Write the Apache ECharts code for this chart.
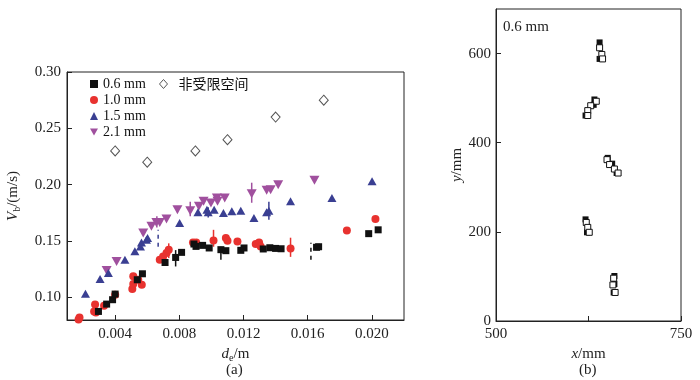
<!DOCTYPE html>
<html><head><meta charset="utf-8">
<script src="https://cdn.jsdelivr.net/npm/echarts@6/dist/echarts.min.js"></script>
<style>html,body{margin:0;padding:0;background:#fff}#c{width:700px;height:380px}</style>
</head><body><div id="c"></div>
<script>
// ---- Panel (a) data: [d_e (m), V_b (m/s)]
const s06 = [[0.00296,0.0876],[0.00347,0.0941],[0.00384,0.098],[0.0040,0.103],[0.00538,0.1157],[0.0057,0.121],[0.00711,0.131],[0.00777,0.1355],[0.00814,0.140],[0.00891,0.1474],[0.00904,0.1453],[0.00945,0.1462],[0.00986,0.1439],[0.01059,0.1424],[0.0109,0.1415],[0.01183,0.1418],[0.01203,0.1439],[0.01323,0.143],[0.01364,0.1441],[0.014,0.1435],[0.01434,0.1432],[0.01655,0.1445],[0.01668,0.145],[0.0198,0.1566],[0.02039,0.160]];
const s10 = [[0.00172,0.0805],[0.00178,0.0822],[0.00269,0.0876],[0.0028,0.0867],[0.00275,0.0938],[0.00331,0.0926],[0.0040,0.1024],[0.00507,0.1075],[0.00513,0.112],[0.00513,0.1187],[0.00544,0.1157],[0.00566,0.1113],[0.00678,0.1335],[0.00699,0.1364],[0.0072,0.1394],[0.00734,0.1424],[0.00885,0.1488],[0.00905,0.1488],[0.01013,0.1506],[0.0109,0.1527],[0.011,0.1503],[0.01162,0.1497],[0.01276,0.1474],[0.01297,0.1488],[0.01307,0.1453],[0.01493,0.1435],[0.01844,0.1595],[0.02022,0.1696]];
const s15 = [[0.00215,0.1033],[0.00306,0.1163],[0.00358,0.1217],[0.00461,0.1335],[0.00523,0.1409],[0.00558,0.1453],[0.00564,0.1488],[0.00595,0.1512],[0.00602,0.1527],[0.00802,0.166],[0.00916,0.1755],[0.00972,0.1779],[0.0098,0.1755],[0.01017,0.1779],[0.01075,0.175],[0.01127,0.1764],[0.01183,0.177],[0.01265,0.1705],[0.01344,0.1755],[0.01358,0.177],[0.01493,0.1853],[0.01751,0.1883],[0.02001,0.203]];
const s21 = [[0.00347,0.124],[0.00409,0.132],[0.00575,0.1572],[0.00626,0.1631],[0.00657,0.1666],[0.00678,0.1666],[0.0072,0.1696],[0.00788,0.1779],[0.00868,0.177],[0.00922,0.1808],[0.00951,0.1853],[0.00997,0.1838],[0.01034,0.1883],[0.01038,0.1853],[0.01083,0.1883],[0.01251,0.1921],[0.01344,0.195],[0.01369,0.1956],[0.01416,0.2],[0.01642,0.2039]];
const sFree = [[0.004,0.230],[0.006,0.220],[0.009,0.230],[0.011,0.240],[0.014,0.260],[0.017,0.275]];
// error bars: [x, low, high]
const err06 = [[0.00777,0.1275,0.142],[0.01059,0.1335,0.145]];
const err06dash = [[0.0162,0.1335,0.1485]];
const err10 = [[0.00734,0.135,0.148],[0.01013,0.145,0.160],[0.01493,0.136,0.153]];
const err15 = [[0.0098,0.171,0.180],[0.01358,0.169,0.185]];
const err15dash = [[0.00668,0.145,0.160]];
const err21 = [[0.00868,0.172,0.185],[0.01251,0.184,0.2018],[0.0066,0.162,0.172]];
const xTicksA = [0.004,0.008,0.012,0.016,0.020];
const yTicksA = [0.10,0.15,0.20,0.25,0.30];
const namesA = ['0.6 mm','1.0 mm','1.5 mm','2.1 mm','非受限空间'];

// ---- Panel (b) data: [x (mm), y (mm)]
const bFilled = [[640,625],[640,588],[633,497],[632,485],[621,461],[651,366],[657,353],[663,332],[621,228],[623,199],[660,101],[660,83],[659,64]];
const bHollow = [[640,613],[643,598],[644,588],[635.5,493],[628,483],[624,472],[624,461],[650,362],[653.5,351],[660,341],[665,332],[622,221],[624,210],[626,199],[659,96],[658,81],[661,64]];
const xTicksB = [500,625,750];
const xLabelsB = [500,750];
const yTicksB = [0,200,400,600];

const FONT = '"Liberation Serif","Times New Roman",serif';
const C06='#111111', C10='#e8322f', C15='#3a3f92', C21='#a0509e';

function errSeries(data, color, dashed){
  return {type:'custom', xAxisIndex:0, yAxisIndex:0, silent:true, z:1,
    encode:{x:0,y:[1,2]}, data:data,
    renderItem:function(params, api){
      const p1=api.coord([api.value(0),api.value(1)]);
      const p2=api.coord([api.value(0),api.value(2)]);
      return {type:'line', shape:{x1:p1[0],y1:p1[1],x2:p2[0],y2:p2[1]},
        style:{stroke:color,lineWidth:1.5,lineDash:dashed?[4,4]:null}};
    }};
}
const axisLineStyle = {lineStyle:{color:'#222',width:1}};
const chart = echarts.init(document.getElementById('c'));
chart.setOption({
  animation:false,
  textStyle:{fontFamily:FONT},
  grid:[
    {left:67, top:72, right:296, bottom:60, show:true, borderColor:'#222', borderWidth:1},
    {left:496, top:9, right:19, bottom:59, show:true, borderColor:'#222', borderWidth:1}
  ],
  legend:[
    {data:namesA.slice(0,4), orient:'vertical', left:90, top:77, padding:0, itemWidth:8, itemHeight:8, itemGap:2,
     textStyle:{fontFamily:FONT,fontSize:14,color:'#111',lineHeight:14}, selectedMode:false},
    {data:[{name:namesA[4], itemStyle:{color:'#fff',borderColor:'#555',borderWidth:1}}],
     orient:'vertical', left:159, top:77, padding:0, itemWidth:8, itemHeight:9, itemGap:2,
     textStyle:{fontFamily:'"Noto Sans CJK SC",sans-serif',fontSize:14,color:'#111',padding:[0,0,0,6]}, selectedMode:false}
  ],
  xAxis:[
    {gridIndex:0, type:'value', min:0.001, max:0.022,
     axisLine:axisLineStyle, splitLine:{show:false},
     axisTick:{inside:true,length:5,customValues:xTicksA,lineStyle:{color:'#222'}},
     axisLabel:{customValues:xTicksA, fontFamily:FONT, fontSize:15, color:'#222', margin:7,
       formatter:v=>v.toFixed(3)},
     name:'{i|d}{s|e}/m', nameLocation:'middle', nameGap:24,
     nameTextStyle:{fontFamily:FONT,fontSize:15,color:'#222',
       rich:{i:{fontStyle:'italic',fontFamily:FONT,fontSize:15},s:{fontFamily:FONT,fontSize:10,padding:[8,0,0,0]}}}},
    {gridIndex:1, type:'value', min:500, max:750,
     axisLine:axisLineStyle, splitLine:{show:false},
     axisTick:{inside:true,length:5,customValues:xTicksB,lineStyle:{color:'#222'}},
     axisLabel:{customValues:xLabelsB, fontFamily:FONT, fontSize:15, color:'#222', margin:6},
     name:'{i|x}/mm', nameLocation:'middle', nameGap:24,
     nameTextStyle:{fontFamily:FONT,fontSize:15,color:'#222',rich:{i:{fontStyle:'italic',fontFamily:FONT,fontSize:15}}}}
  ],
  yAxis:[
    {gridIndex:0, type:'value', min:0.08, max:0.30,
     axisLine:axisLineStyle, splitLine:{show:false},
     axisTick:{inside:true,length:5,customValues:yTicksA,lineStyle:{color:'#222'}},
     axisLabel:{customValues:yTicksA, fontFamily:FONT, fontSize:15, color:'#222', margin:6,
       formatter:v=>v.toFixed(2)},
     name:'{i|V}{s|b}/(m/s)', nameLocation:'middle', nameGap:45,
     nameTextStyle:{fontFamily:FONT,fontSize:15,color:'#222',
       rich:{i:{fontStyle:'italic',fontFamily:FONT,fontSize:15},s:{fontFamily:FONT,fontSize:10,padding:[8,0,0,0]}}}},
    {gridIndex:1, type:'value', min:0, max:700,
     axisLine:axisLineStyle, splitLine:{show:false},
     axisTick:{inside:true,length:5,customValues:yTicksB,lineStyle:{color:'#222'}},
     axisLabel:{customValues:yTicksB, fontFamily:FONT, fontSize:15, color:'#222', margin:5},
     name:'{i|y}/mm', nameLocation:'middle', nameGap:26,
     nameTextStyle:{fontFamily:FONT,fontSize:15,color:'#222',rich:{i:{fontStyle:'italic',fontFamily:FONT,fontSize:15}}}}
  ],
  series:[
    errSeries(err06,C06,false), errSeries(err06dash,C06,true),
    errSeries(err10,C10,false),
    errSeries(err15,C15,false), errSeries(err15dash,C15,true),
    errSeries(err21,C21,false),
    {name:namesA[4], type:'scatter', data:sFree, symbol:'diamond', symbolSize:[9,10],
     itemStyle:{color:'#fff',borderColor:'#555',borderWidth:1,opacity:1}},
    {name:namesA[3], type:'scatter', data:s21, symbol:'path://M0,0L10,0L5,8.7Z', symbolSize:[10,9], itemStyle:{color:C21,opacity:1}},
    {name:namesA[2], type:'scatter', data:s15, symbol:'triangle', symbolSize:[9,8], itemStyle:{color:C15,opacity:1}},
    {name:namesA[1], type:'scatter', data:s10, symbol:'circle', symbolSize:8, itemStyle:{color:C10,opacity:1}},
    {name:namesA[0], type:'scatter', data:s06, symbol:'rect', symbolSize:7, itemStyle:{color:C06,opacity:1}},
    {type:'scatter', xAxisIndex:1, yAxisIndex:1, data:bFilled, symbol:'rect', symbolSize:6, itemStyle:{color:'#111',opacity:1}},
    {type:'scatter', xAxisIndex:1, yAxisIndex:1, data:bHollow, symbol:'rect', symbolSize:6, itemStyle:{color:'#fff',borderColor:'#111',borderWidth:1,opacity:1}}
  ],
  graphic:[
    {type:'text', left:226, top:363, style:{text:'(a)', font:'15px '+FONT, fill:'#222'}},
    {type:'text', left:579, top:363, style:{text:'(b)', font:'15px '+FONT, fill:'#222'}},
    {type:'text', left:503, top:20, style:{text:'0.6 mm', font:'15px '+FONT, fill:'#222'}}
  ]
});
</script></body></html>
